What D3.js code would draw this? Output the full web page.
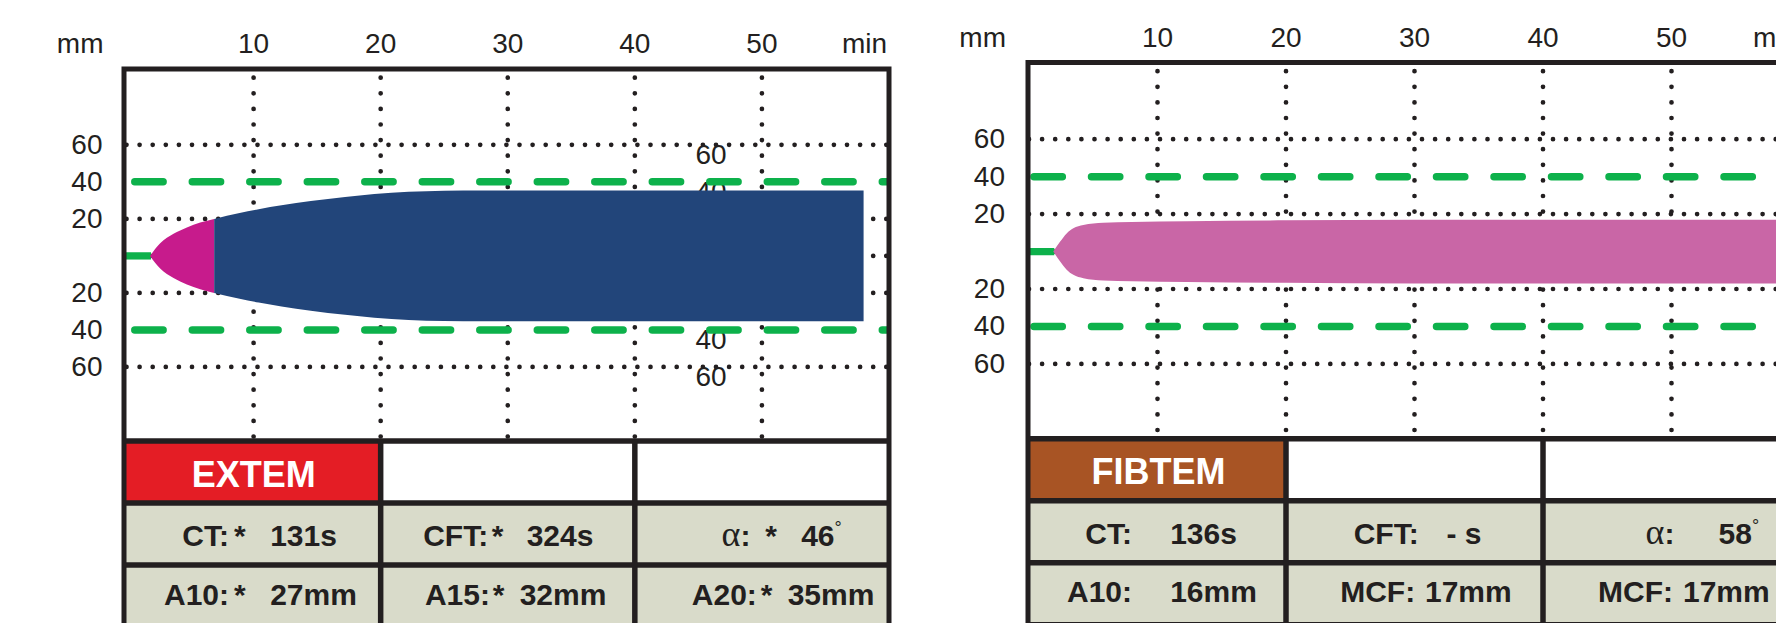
<!DOCTYPE html>
<html>
<head>
<meta charset="utf-8">
<script src="https://cdn.jsdelivr.net/npm/d3@7"></script>
<style>
  html, body { margin: 0; padding: 0; background: #fff; }
  svg { display: block; }
  text { font-family: "Liberation Sans", Arial, sans-serif; fill: #231f20; }
</style>
</head>
<body>
<div id="chart"></div>
<script>
// axis ticks
var timeTicks = [10, 20, 30, 40, 50];
var ampTicks = [60, 40, 20, -20, -40, -60];
var dottedLevels = [60, 20, 0, -20, -60];
var dashedLevels = [40, -40];
var innerLabelLevels = [60, 40, -40, -60];   // the stray labels inside the EXTEM plot

// EXTEM trace: time (min) vs half amplitude (mm)
var extemTime = [1.85, 2.65, 3.7, 4.75, 5.8, 6.9, 8.9, 10.4, 12.2, 14.5, 17.2, 19.5, 22.2, 25, 28, 58];
var extemAmp  = [0, 6.8, 11.9, 15.4, 18, 20, 23.2, 25.2, 27.3, 29.6, 31.8, 33.4, 34.6, 35.2, 35.3, 35.3];

// FIBTEM trace
var fibtemTime = [1.89, 2.41, 2.93, 3.45, 4.23, 5.78, 8, 12.3, 20, 30, 58.2];
var fibtemAmp  = [0, 5.2, 9.7, 12.4, 14.2, 15.4, 15.8, 16.2, 16.7, 17, 17];

// result tables (row 2 then row 3, left to right)
var extemLabels = ["CT:", "CFT:", "α:", "A10:", "A15:", "A20:"];
var extemValues = ["131s", "324s", "46°", "27mm", "32mm", "35mm"];
var extemStars  = [true, true, true, true, true, true];

var fibtemLabels = ["CT:", "CFT:", "α:", "A10:", "MCF:", "MCF:"];
var fibtemValues = ["136s", "- s", "58°", "16mm", "17mm", "17mm"];
var fibtemStars  = [false, false, false, false, false, false];

var green = "#0db14b";
var ink = "#231f20";

var panels = [
  {
    name: "EXTEM", head: "#e41d25", fills: ["#c71b8c", "#22457a"], split: 20,
    time: extemTime, amp: extemAmp, labels: extemLabels, values: extemValues, stars: extemStars,
    left: 124, x0: 126.5, x1: 889, top: 69, bottom: 441, inner: true, dashStart: 8.3,
    // label end, star start, value start (offsets from the cell's left line)
    pos: [[102, 111, 147.7], [104.5, 112, 147.5], [112.6, 131.3, 167.8],
          [102, 111, 147.7], [106.3, 113, 140.5], [119, 127, 154.3]]
  },
  {
    name: "FIBTEM", head: "#a85424", fills: ["#c966a6"], split: null,
    time: fibtemTime, amp: fibtemAmp, labels: fibtemLabels, values: fibtemValues, stars: fibtemStars,
    left: 1028, x0: 1029, x1: 1800, top: 62.5, bottom: 438.8, inner: false, dashStart: 5,
    pos: [[101, 0, 143.7], [129.7, 0, 162], [128.4, 0, 177],
          [101, 0, 143.7], [126.2, 0, 140.5], [127, 0, 141.5]]
  }
];

var svg = d3.select("#chart").append("svg")
  .attr("width", 1776)
  .attr("height", 623);

svg.append("rect").attr("width", 1776).attr("height", 623).attr("fill", "#fff");

var rowH = 62;

panels.forEach(function(p, pi) {
  var x = d3.scaleLinear().domain([0, 60]).range([p.x0, p.x1]);
  var y = d3.scaleLinear().domain([-100, 100]).range([p.bottom, p.top + 1.8]);
  var g = svg.append("g");

  var clipId = "clip" + pi;
  svg.append("clipPath").attr("id", clipId)
    .append("rect")
    .attr("x", p.left).attr("y", p.top)
    .attr("width", p.x1 - p.left).attr("height", p.bottom - p.top);

  // table backgrounds
  var colX = [p.left, x(20), x(40), p.x1];
  for (var c = 0; c < 3; c++) {
    g.append("rect")
      .attr("x", colX[c]).attr("y", p.bottom)
      .attr("width", colX[c + 1] - colX[c]).attr("height", rowH)
      .attr("fill", c === 0 ? p.head : "#fff");
  }
  g.append("rect")
    .attr("x", p.left).attr("y", p.bottom + rowH)
    .attr("width", p.x1 - p.left).attr("height", rowH * 2)
    .attr("fill", "#d9dbca");

  var plot = g.append("g").attr("clip-path", "url(#" + clipId + ")");

  // vertical dotted grid
  plot.selectAll(".vgrid").data(timeTicks).enter().append("line")
    .attr("x1", d => x(d)).attr("x2", d => x(d))
    .attr("y1", p.top + 8.7).attr("y2", p.bottom)
    .attr("stroke", ink).attr("stroke-width", 4.7)
    .attr("stroke-linecap", "round")
    .attr("stroke-dasharray", "0 15.6");

  // horizontal dotted grid
  plot.selectAll(".hgrid").data(dottedLevels).enter().append("line")
    .attr("x1", p.x0).attr("x2", p.x1)
    .attr("y1", d => y(d)).attr("y2", d => y(d))
    .attr("stroke", ink).attr("stroke-width", 4.7)
    .attr("stroke-linecap", "round")
    .attr("stroke-dasharray", "0 13.1");

  if (p.inner) {
    plot.selectAll(".inner").data(innerLabelLevels).enter().append("text")
      .attr("x", x(46)).attr("y", d => y(d) + 19)
      .attr("text-anchor", "middle")
      .attr("font-size", 28)
      .text(d => Math.abs(d));
  }

  // green limit lines
  plot.selectAll(".dash").data(dashedLevels).enter().append("line")
    .attr("x1", p.x0 + p.dashStart).attr("x2", p.x1 + 10)
    .attr("y1", d => y(d)).attr("y2", d => y(d))
    .attr("stroke", green).attr("stroke-width", 7.5)
    .attr("stroke-linecap", "round")
    .attr("stroke-dasharray", "28.3 29.2");

  // baseline before clotting starts
  plot.append("line")
    .attr("x1", p.left).attr("x2", x(p.time[0]) + 1)
    .attr("y1", y(0)).attr("y2", y(0))
    .attr("stroke", green).attr("stroke-width", 7.3);

  // trace
  var pts = p.time.map((t, i) => ({t: t, a: p.amp[i]}));
  var area = d3.area()
    .x(d => x(d.t))
    .y0(d => y(-d.a))
    .y1(d => y(d.a))
    .curve(d3.curveMonotoneX);

  var segs;
  if (p.split !== null) {
    var k = pts.findIndex(d => d.a >= p.split);
    segs = [pts.slice(0, k + 1), pts.slice(k)];
  } else {
    segs = [pts];
  }
  segs.forEach(function(s, si) {
    plot.append("path").attr("d", area(s)).attr("fill", p.fills[si]);
  });

  // frame and table lines
  g.append("rect")
    .attr("x", p.left).attr("y", p.top)
    .attr("width", p.x1 - p.left).attr("height", p.bottom + rowH * 3 - p.top)
    .attr("fill", "none").attr("stroke", ink).attr("stroke-width", 5);
  [0, 1, 2, 3].forEach(function(r) {
    g.append("line")
      .attr("x1", p.left).attr("x2", p.x1)
      .attr("y1", p.bottom + r * rowH).attr("y2", p.bottom + r * rowH)
      .attr("stroke", ink).attr("stroke-width", 5.5);
  });
  [x(20), x(40)].forEach(function(cx) {
    g.append("line")
      .attr("x1", cx).attr("x2", cx)
      .attr("y1", p.bottom).attr("y2", p.bottom + rowH * 3)
      .attr("stroke", ink).attr("stroke-width", 5.5);
  });

  // axis labels
  g.selectAll(".xt").data(timeTicks).enter().append("text")
    .attr("x", d => x(d)).attr("y", p.top - 15.7)
    .attr("text-anchor", "middle").attr("font-size", 28)
    .text(d => d);
  g.append("text")
    .attr("x", p.x0 - 23).attr("y", p.top - 15.7)
    .attr("text-anchor", "end").attr("font-size", 28)
    .text("mm");
  g.append("text")
    .attr("x", p.x1 - 2).attr("y", p.top - 15.7)
    .attr("text-anchor", "end").attr("font-size", 28)
    .text("min");
  g.selectAll(".yt").data(ampTicks).enter().append("text")
    .attr("x", p.x0 - 24).attr("y", d => y(d) + 9)
    .attr("text-anchor", "end").attr("font-size", 28)
    .text(d => Math.abs(d));

  // table text
  g.append("text")
    .attr("x", (colX[0] + colX[1]) / 2 + 1.5).attr("y", p.bottom + 45.5)
    .attr("text-anchor", "middle")
    .attr("font-size", 36).attr("font-weight", "bold")
    .style("fill", "#fff")
    .text(p.name);

  var baseOff = [43, 39.5];
  p.labels.forEach(function(lab, i) {
    var r = Math.floor(i / 3), c = i % 3;
    var cx = colX[c], by = p.bottom + rowH * (r + 1) + baseOff[r];
    var pos = p.pos[i];

    var lt = g.append("text")
      .attr("x", cx + pos[0] + 3).attr("y", by)
      .attr("text-anchor", "end")
      .attr("font-size", 30).attr("font-weight", "bold");
    if (lab.charAt(0) === "α") {
      lt.append("tspan")
        .style("font-family", "'Liberation Serif', 'Times New Roman', serif")
        .attr("font-weight", "normal").attr("font-size", 36)
        .text("α");
      lt.append("tspan").text(lab.slice(1));
    } else {
      lt.text(lab);
    }

    if (p.stars[i]) {
      g.append("text")
        .attr("x", cx + pos[1] - 1).attr("y", by)
        .attr("font-size", 30).attr("font-weight", "bold")
        .text("*");
    }

    var val = p.values[i];
    var vt = g.append("text")
      .attr("x", cx + pos[2] - 1.5).attr("y", by)
      .attr("font-size", 30).attr("font-weight", "bold");
    if (val.slice(-1) === "°") {
      vt.append("tspan").text(val.slice(0, -1));
      vt.append("tspan")
        .attr("font-size", 18).attr("font-weight", "normal")
        .attr("dy", -12)
        .text("°");
    } else {
      vt.text(val);
    }
  });
});
</script>
</body>
</html>
